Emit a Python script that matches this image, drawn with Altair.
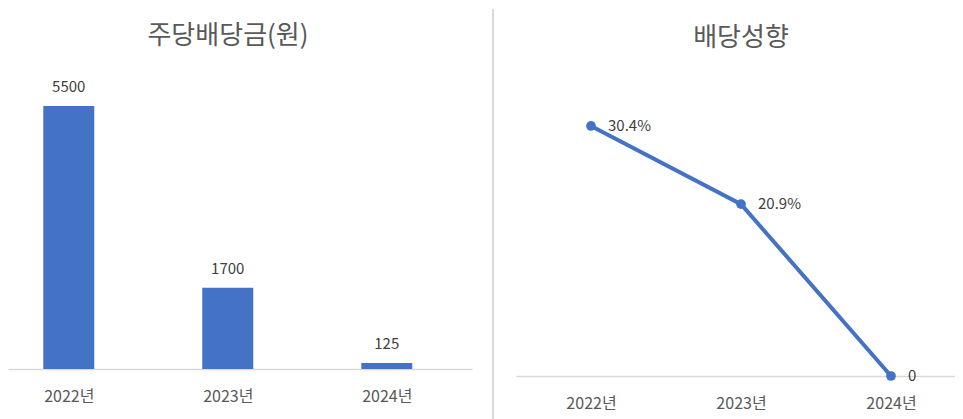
import altair as alt
import pandas as pd

years = ["2022년", "2023년", "2024년"]
dps = [5500, 1700, 125]
dps_labels = ["5500", "1700", "125"]
payout = [30.4, 20.9, 0]
payout_labels = ["30.4%", "20.9%", "0"]
titles = ["주당배당금(원)", "배당성향"]

BLUE = "#4472C4"
FONT = "Noto Sans CJK KR"

df_l = pd.DataFrame({"idx": [0, 1, 2], "year": years, "v": dps, "lab": dps_labels})
df_r = pd.DataFrame({"idx": [0, 1, 2], "year": years, "v": payout, "lab": payout_labels})
df_t1 = pd.DataFrame({"t": [titles[0]]})
df_t2 = pd.DataFrame({"t": [titles[1]]})

label_expr = "[" + ",".join("'%s'" % y for y in years) + "][datum.value]"

def xaxis():
    return alt.Axis(values=[0, 1, 2], labelExpr=label_expr, title=None, grid=False,
                    ticks=False, domainColor="#d9d9d9", domainWidth=1.5,
                    labelFont=FONT, labelFontSize=16, labelColor="#595959",
                    labelPadding=19, labelAngle=0)

# Left panel: view spans page x 8..472, categories every 162.5 px
xl = alt.X("idx:Q", scale=alt.Scale(domain=[-0.3508, 2.5046], nice=False, zero=False), axis=xaxis())
yl = alt.Y("v:Q", scale=alt.Scale(domain=[0, 6440], nice=False), axis=None)
bars = alt.Chart(df_l).mark_bar(size=51, color=BLUE).encode(x=xl, y=yl)
bar_text = alt.Chart(df_l).mark_text(baseline="bottom", dy=-11, font=FONT, fontSize=15,
                                     color="#404040").encode(x=xl, y=yl, text="lab:N")
title_l = alt.Chart(df_t1).mark_text(font=FONT, fontSize=26, color="#595959",
                                     baseline="middle").encode(
    x=alt.value(220), y=alt.value(-25), text="t:N")
left = alt.layer(bars, bar_text, title_l).properties(width=464, height=308)

# Right panel: view spans page x 516..955, categories every 150 px
xr = alt.X("idx:Q", scale=alt.Scale(domain=[-0.5, 2.4267], nice=False, zero=False), axis=xaxis())
yr = alt.Y("v:Q", scale=alt.Scale(domain=[0, 38.3], nice=False), axis=None)
line = alt.Chart(df_r).mark_line(color=BLUE, strokeWidth=4, clip=False).encode(x=xr, y=yr)
pts = alt.Chart(df_r).mark_point(filled=True, size=95, color=BLUE, opacity=1).encode(x=xr, y=yr)
line_text = alt.Chart(df_r).mark_text(align="left", baseline="middle", dx=17, font=FONT,
                                      fontSize=15, color="#404040").encode(x=xr, y=yr, text="lab:N")
sep = alt.Chart(df_t2).mark_rule(color="#d9d9d9", strokeWidth=2).encode(
    x=alt.value(-23), y=alt.value(-52), y2=alt.value(360))
title_r = alt.Chart(df_t2).mark_text(font=FONT, fontSize=26, color="#595959",
                                     baseline="middle").encode(
    x=alt.value(225), y=alt.value(-23), text="t:N")
right = alt.layer(sep, line, pts, line_text, title_r).properties(width=439, height=315)

chart = alt.hconcat(left, right, spacing=44, bounds="flush").configure(
    padding=0, background="white").configure_view(stroke=None)

chart.save("out.html", embed_options={"renderer": "svg", "actions": False})
